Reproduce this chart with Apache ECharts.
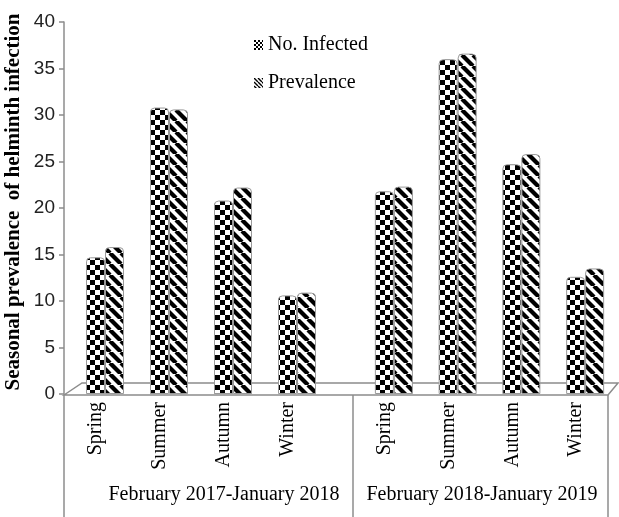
<!DOCTYPE html>
<html>
<head>
<meta charset="utf-8">
<script src="https://cdn.jsdelivr.net/npm/echarts@6/dist/echarts.min.js"></script>
<style>html,body{margin:0;padding:0;background:#fff;}#chart{width:619px;height:517px;}</style>
</head>
<body>
<div id="chart"></div>
<script>
const seasons = ['Spring', 'Summer', 'Autumn', 'Winter'];
const periods = ['February 2017-January 2018', 'February 2018-January 2019'];
const seriesNames = ['No. Infected', 'Prevalence'];
const infected2017 = [14.7, 30.8, 20.8, 10.6];
const prevalence2017 = [15.8, 30.6, 22.2, 10.9];
const infected2018 = [21.8, 36.0, 24.7, 12.6];
const prevalence2018 = [22.3, 36.6, 25.8, 13.5];
const yMin = 0, yMax = 40, yStep = 5;
const yTitle = 'Seasonal prevalence  of helminth infection';

function checker(cell) {
  const c = document.createElement('canvas');
  c.width = c.height = cell * 2;
  const g = c.getContext('2d');
  g.fillStyle = '#fff'; g.fillRect(0, 0, cell * 2, cell * 2);
  g.fillStyle = '#000';
  g.fillRect(0, 0, cell, cell); g.fillRect(cell, cell, cell, cell);
  return c;
}
function stripes(p, w) {
  const c = document.createElement('canvas');
  c.width = c.height = p;
  const g = c.getContext('2d');
  g.fillStyle = '#fff'; g.fillRect(0, 0, p, p);
  g.strokeStyle = '#000'; g.lineWidth = w;
  for (const o of [-p, 0, p]) { g.beginPath(); g.moveTo(o, 0); g.lineTo(o + p, p); g.stroke(); }
  return c;
}
const checkFill = { image: checker(5), repeat: 'repeat' };
const stripeFill = { image: stripes(11, 4.2), repeat: 'repeat' };
const checkSmall = { image: checker(2), repeat: 'repeat' };
const stripeSmall = { image: stripes(4, 1.4), repeat: 'repeat' };

const serif = "'Liberation Serif','Times New Roman',serif";
const gray = '#8c8c8c';

const chart = echarts.init(document.getElementById('chart'), null, { renderer: 'canvas' });

function barSeries(name, data, fill, gi) {
  return {
    name: name, type: 'bar', xAxisIndex: gi, yAxisIndex: gi, data: data,
    barWidth: 19, barGap: '0%',
    itemStyle: { color: fill, borderColor: '#9a9a9a', borderWidth: 1, borderRadius: [4, 4, 0, 0] },
    z: 3
  };
}
function barAxis(gi) {
  return { gridIndex: gi, type: 'category', data: seasons, axisLine: { show: false }, axisTick: { show: false }, axisLabel: { show: false } };
}
function labelAxis(gi) {
  return {
    gridIndex: gi, type: 'category', data: seasons,
    axisLine: { show: false }, axisTick: { show: false },
    axisLabel: { rotate: 90, margin: 8, fontFamily: serif, fontSize: 20, color: '#000' }
  };
}
function hiddenY(gi) {
  return { gridIndex: gi, type: 'value', min: yMin, max: yMax, interval: yStep, show: false, splitLine: { show: false } };
}

chart.setOption({
  animation: false,
  backgroundColor: '#fff',
  grid: [
    { left: 73, width: 256, top: 22, bottom: 123 },
    { left: 362, width: 255, top: 22, bottom: 123 },
    { left: 64, width: 256, top: 22, bottom: 123 },
    { left: 353, width: 255, top: 22, bottom: 123 }
  ],
  legend: {
    orient: 'vertical', left: 249, top: 30, itemGap: 18,
    itemWidth: 9, itemHeight: 10, icon: 'rect',
    textStyle: { fontFamily: serif, fontSize: 20, color: '#000', lineHeight: 20 },
    data: [
      { name: seriesNames[0], itemStyle: { color: checkSmall, borderWidth: 0 } },
      { name: seriesNames[1], itemStyle: { color: stripeSmall, borderWidth: 0 } }
    ]
  },
  xAxis: [barAxis(0), barAxis(1), labelAxis(2), labelAxis(3)],
  yAxis: [
    {
      gridIndex: 0, type: 'value', min: yMin, max: yMax, interval: yStep, offset: 9,
      name: yTitle, nameLocation: 'middle', nameGap: 40,
      nameTextStyle: { fontFamily: serif, fontSize: 21, fontWeight: 'bold', color: '#000', padding: [0, 0, 0, 12] },
      axisLine: { show: true, lineStyle: { color: gray, width: 1.5 } },
      axisTick: { show: true, length: 5, lineStyle: { color: gray, width: 1.5 } },
      axisLabel: { margin: 9, fontFamily: "'Liberation Sans',Arial,sans-serif", fontSize: 19, color: '#222' },
      splitLine: { show: false }
    },
    hiddenY(1), hiddenY(2), hiddenY(3)
  ],
  series: [
    barSeries(seriesNames[0], infected2017, checkFill, 0),
    barSeries(seriesNames[1], prevalence2017, stripeFill, 0),
    barSeries(seriesNames[0], infected2018, checkFill, 1),
    barSeries(seriesNames[1], prevalence2018, stripeFill, 1)
  ],
  graphic: [
    { type: 'polygon', z: 0, shape: { points: [[64, 395], [82, 383], [618, 383], [608, 395]] },
      style: { fill: '#fff', stroke: gray, lineWidth: 1.5 } },
    { type: 'line', z: 1, shape: { x1: 64, y1: 395, x2: 64, y2: 517 }, style: { stroke: gray, lineWidth: 1.5 } },
    { type: 'line', z: 1, shape: { x1: 353, y1: 395, x2: 353, y2: 517 }, style: { stroke: gray, lineWidth: 1.5 } },
    { type: 'line', z: 1, shape: { x1: 608, y1: 395, x2: 608, y2: 517 }, style: { stroke: gray, lineWidth: 1.5 } },
    { type: 'text', z: 5, x: 224, y: 495, style: { text: periods[0], font: "20px 'Liberation Serif','Times New Roman',serif", fill: '#000', align: 'center', verticalAlign: 'middle' } },
    { type: 'text', z: 5, x: 482, y: 495, style: { text: periods[1], font: "20px 'Liberation Serif','Times New Roman',serif", fill: '#000', align: 'center', verticalAlign: 'middle' } }
  ]
});
</script>
</body>
</html>
